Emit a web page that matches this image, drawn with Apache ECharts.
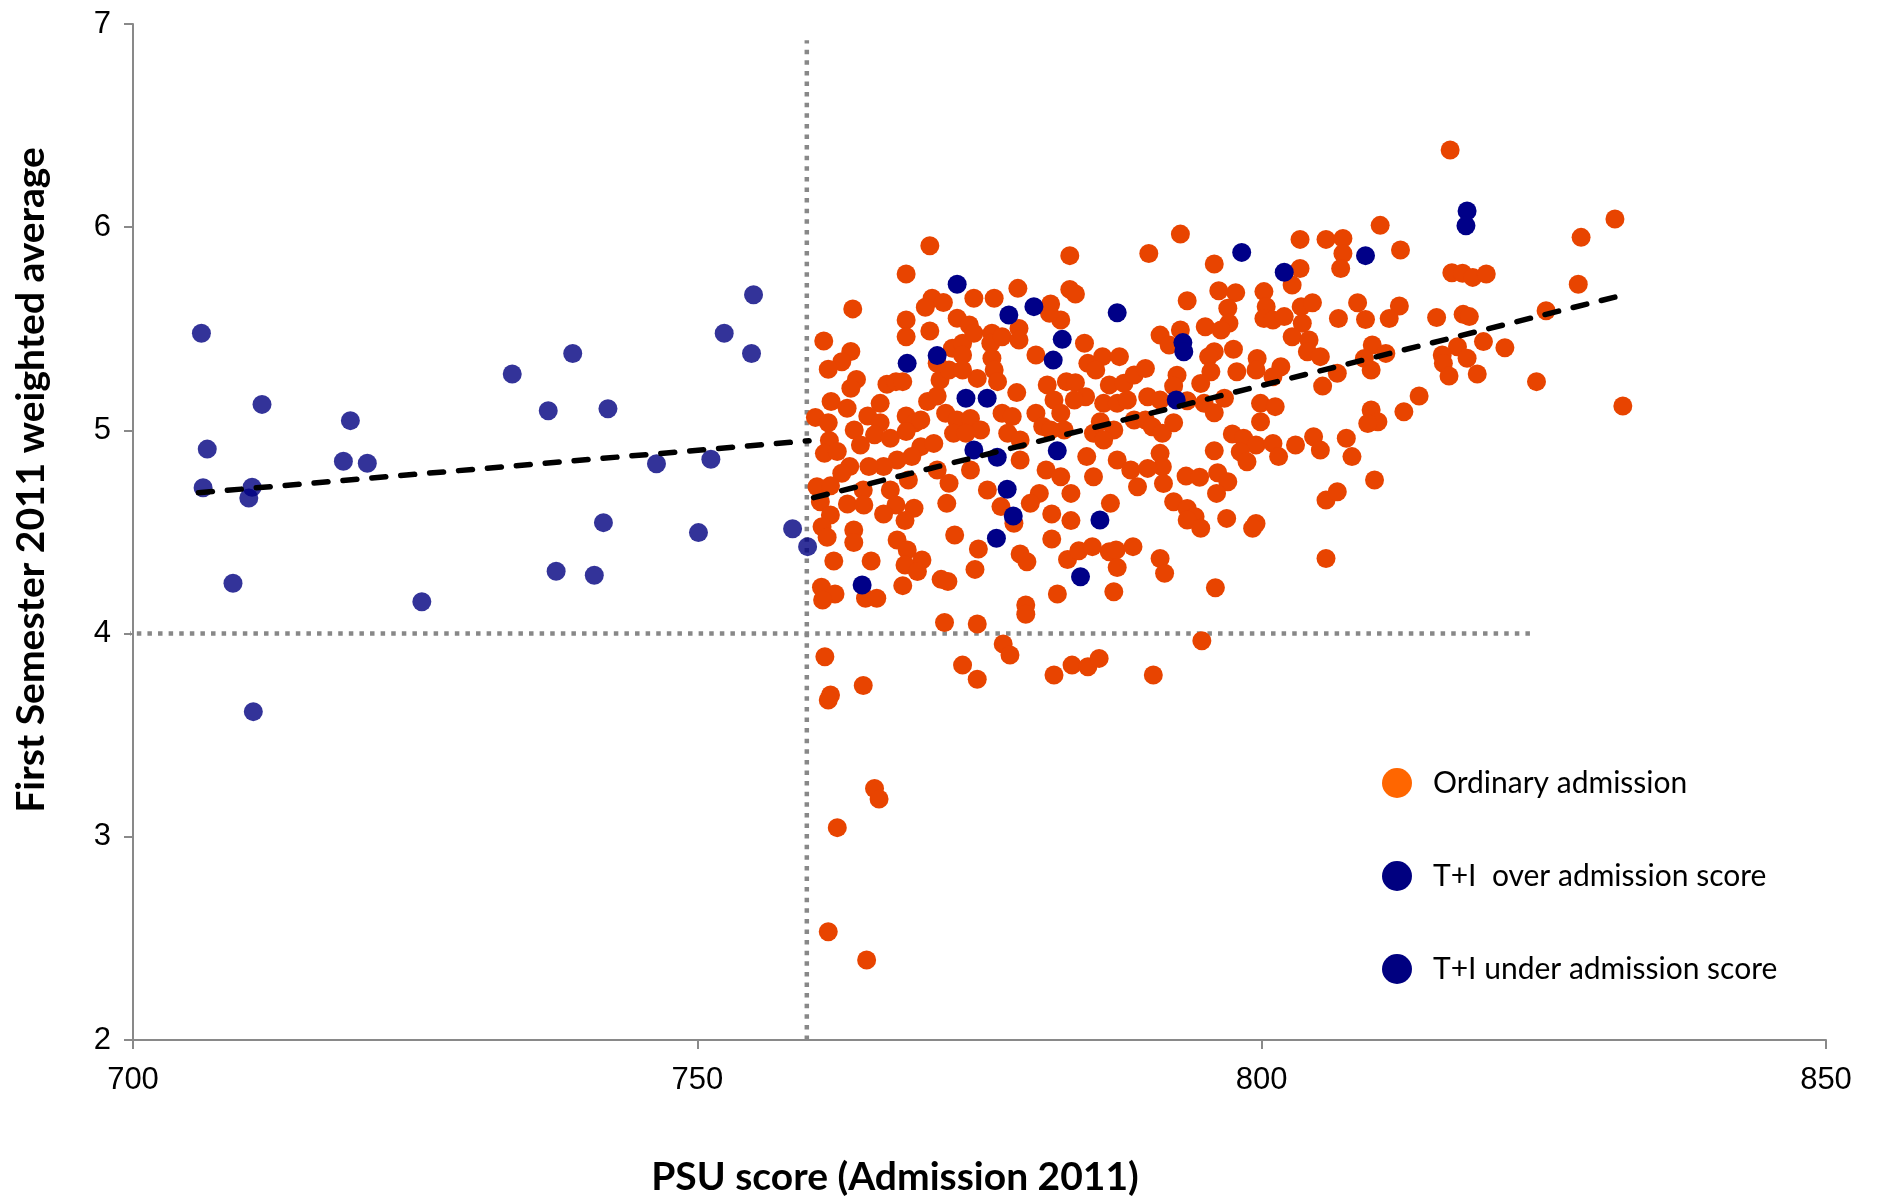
<!DOCTYPE html>
<html>
<head>
<meta charset="utf-8">
<script src="https://cdn.jsdelivr.net/npm/echarts@6/dist/echarts.min.js"></script>
<style>
html,body{margin:0;padding:0;background:#fff;}
#chart{width:1879px;height:1201px;}
</style>
</head>
<body>
<div id="chart"></div>
<script>
// ---- axis ranges / ticks ----
const xMin = 700, xMax = 850, xStep = 50;
const yMin = 2, yMax = 7, yStep = 1;

// ---- titles / legend labels ----
const xTitle = 'PSU score (Admission 2011)';
const yTitle = 'First Semester 2011 weighted average';
const nameOrdinary = 'Ordinary admission';
const nameOver = 'T+I  over admission score';
const nameUnder = 'T+I under admission score';

// ---- T+I students under the admission score (PSU, average) ----
const tiUnder = [
  [706.06,5.478],[711.43,5.128],[706.58,4.908],[706.21,4.718],[710.55,4.72],[710.26,4.667],
  [708.86,4.248],[710.66,3.616],[719.26,5.048],[718.64,4.848],[720.76,4.838],[725.59,4.157],
  [733.6,5.278],[738.96,5.378],[736.79,5.097],[742.08,5.107],[737.49,4.307],[740.87,4.287],
  [741.68,4.546],[746.38,4.836],[751.2,4.858],[750.1,4.497],[752.38,5.478],[754.98,5.668],
  [754.8,5.378],[758.44,4.516],[759.77,4.428]
];

// ---- T+I students over the admission score ----
const tiOver = [
  [773.02,5.719],[777.6,5.568],[779.82,5.609],[787.2,5.579],[782.33,5.448],[781.53,5.346],
  [771.25,5.368],[768.59,5.33],[773.8,5.158],[775.68,5.158],[793.02,5.432],[793.1,5.387],
  [792.43,5.15],[798.23,5.876],[802.0,5.778],[774.5,4.904],[776.57,4.868],[781.89,4.9],
  [777.45,4.71],[777.99,4.579],[776.5,4.469],[785.67,4.559],[783.95,4.28],[764.6,4.239],
  [809.2,5.86],[818.2,6.08],[818.1,6.007]
];

// ---- Ordinary admission students ----
const ordinary = [
  [770.6,5.909],[768.5,5.770],[763.77,5.598],[761.2,5.440],[770.6,5.489],[768.5,5.543],[768.5,5.461],[770.8,5.650],[771.8,5.629],[770.2,5.606],[773.02,5.552],
  [763.6,5.388],[762.8,5.338],[761.6,5.301],[764.1,5.251],[763.6,5.207],[766.8,5.227],[767.6,5.240],[768.2,5.240],[761.85,5.142],[763.27,5.109],[766.2,5.133],
  [760.46,5.064],[761.6,5.038],[763.9,5.002],[765.1,5.071],[766.2,5.038],[765.7,4.978],[764.45,4.928],[761.7,4.950],[761.26,4.887],[762.4,4.896],[767.1,4.961],
  [768.5,5.071],[769.3,5.038],[769.8,5.051],[768.5,4.994],[770.4,5.142],[771.25,5.169],[771.5,5.248],[772.3,5.297],[771.25,5.330],[772.6,5.404],[773.5,5.429],
  [772.0,5.084],[773.0,5.051],[772.7,4.986],[769.8,4.920],[770.95,4.936],[769.0,4.871],[767.7,4.854],[766.5,4.822],[765.2,4.822],[763.5,4.822],[762.8,4.789],
  [760.6,4.723],[761.8,4.727],[764.7,4.707],[767.1,4.707],[768.7,4.756],[771.25,4.805],[772.3,4.740],[772.1,4.641],[760.9,4.649],[763.3,4.638],[764.75,4.633],
  [767.6,4.633],[769.2,4.617],
  [783.0,5.860],[778.4,5.699],[774.5,5.650],[776.3,5.650],[783.0,5.694],[783.5,5.671],[781.3,5.622],[782.2,5.543],[781.2,5.576],[774.1,5.519],[774.5,5.478],
  [776.1,5.478],[776.0,5.429],[777.0,5.461],[778.5,5.502],[778.5,5.445],[780.0,5.371],[776.1,5.355],[776.3,5.297],[774.8,5.256],[776.6,5.240],[773.5,5.371],
  [773.5,5.297],[778.3,5.186],[777.0,5.084],[777.9,5.068],[774.2,5.059],[775.1,5.002],[777.5,4.986],[778.6,4.953],[780.0,5.084],[781.0,5.224],[781.6,5.150],
  [780.6,5.019],[782.2,5.084],[782.7,5.240],[783.5,5.235],[784.4,5.166],[783.4,5.150],[782.5,5.002],[784.3,5.429],[784.6,5.330],[785.9,5.363],[787.4,5.363],
  [785.3,5.297],[786.5,5.224],[786.0,5.133],[787.8,5.232],[788.7,5.273],[787.2,5.133],[788.1,5.150],[785.7,5.043],[786.9,5.002],[788.7,5.051],[785.1,4.986],
  [786.0,4.953],[784.5,4.871],[785.1,4.772],[781.3,5.002],[780.9,4.805],[782.2,4.772],[778.6,4.854],[775.7,4.707],[774.2,4.805],[780.3,4.690],[783.1,4.690],
  [787.2,4.854],[788.4,4.805],[786.6,4.641],[789.0,4.723],[779.5,4.641],[776.9,4.625],[773.8,4.986],
  [792.8,5.966],[790.0,5.871],[795.8,5.819],[803.4,5.940],[805.7,5.940],[807.2,5.945],[807.2,5.871],[807.0,5.797],[803.4,5.797],[802.7,5.715],[812.3,5.888],
  [796.2,5.687],[797.7,5.678],[793.4,5.638],[800.2,5.683],[800.4,5.609],[797.0,5.601],[803.5,5.609],[804.5,5.628],[808.5,5.628],[812.2,5.612],[811.3,5.551],
  [806.8,5.551],[809.2,5.546],[800.2,5.551],[801.0,5.543],[802.0,5.560],[803.6,5.527],[797.1,5.527],[795.0,5.510],[796.4,5.494],[791.0,5.469],[792.8,5.494],
  [802.7,5.461],[804.2,5.445],[804.05,5.387],[805.2,5.363],[797.5,5.399],[795.8,5.387],[795.3,5.363],[791.8,5.420],[789.7,5.305],[792.5,5.272],[795.5,5.289],
  [797.8,5.289],[799.6,5.354],[799.5,5.297],[801.7,5.313],[801.0,5.264],[809.8,5.420],[811.0,5.379],[809.1,5.354],[809.7,5.297],[806.7,5.281],[805.4,5.218],
  [794.6,5.231],[792.2,5.218],[789.9,5.166],[791.0,5.149],[793.4,5.146],[794.9,5.133],[796.7,5.158],[795.8,5.087],[799.9,5.133],[801.2,5.117],[799.9,5.043],
  [809.7,5.100],[810.3,5.043],[809.4,5.034],[812.6,5.092],[789.7,5.051],[790.3,5.018],[791.2,4.986],[792.2,5.038],[797.4,4.982],[798.4,4.961],[799.5,4.928],
  [798.1,4.895],[798.7,4.846],[801.0,4.936],[801.5,4.871],[803.0,4.928],[804.6,4.969],[805.2,4.903],[807.5,4.961],[808.0,4.871],[795.8,4.900],[791.0,4.887],
  [791.2,4.821],[789.9,4.813],[791.3,4.739],[793.3,4.775],[794.5,4.769],[796.1,4.792],[797.0,4.747],[796.0,4.690],[792.2,4.649],[793.4,4.616],[794.1,4.575],
  [793.4,4.559],[794.6,4.518],[796.9,4.567],[799.5,4.542],[799.2,4.518],[805.7,4.657],[806.7,4.698],[810.0,4.756],[805.7,4.370],[791.0,4.370],
  [816.7,6.380],[810.5,6.009],[831.3,6.040],[828.3,5.950],[816.85,5.776],[817.8,5.773],[818.7,5.753],[819.9,5.770],[828.05,5.719],[825.2,5.589],[817.85,5.571],
  [818.4,5.560],[815.5,5.556],[819.65,5.437],[821.55,5.407],[817.35,5.412],[816.0,5.371],[818.2,5.355],[816.1,5.330],[816.6,5.268],[819.1,5.278],[824.35,5.240],
  [832.0,5.120],[813.95,5.169],
  [761.79,4.584],[761.05,4.526],[761.5,4.474],[763.86,4.510],[763.86,4.448],[762.09,4.357],[765.4,4.357],[766.5,4.589],[768.4,4.556],[767.7,4.461],[768.6,4.411],
  [769.9,4.362],[768.4,4.338],[769.5,4.305],[772.8,4.485],[774.9,4.416],[774.6,4.316],[771.6,4.267],[772.2,4.256],[768.2,4.236],[761.0,4.228],[762.2,4.195],
  [761.1,4.165],[764.9,4.174],[765.9,4.174],[771.9,4.055],[774.8,4.047],[778.05,4.543],[778.6,4.392],[779.2,4.354],[781.4,4.589],[783.1,4.556],[781.4,4.466],
  [782.8,4.365],[783.8,4.408],[785.0,4.428],[786.5,4.403],[787.1,4.411],[788.6,4.428],[787.2,4.325],[781.9,4.195],[779.1,4.141],[779.1,4.095],[786.9,4.206],
  [791.4,4.297],[795.9,4.226],
  [761.3,3.886],[764.7,3.745],[761.8,3.698],[761.6,3.673],[777.1,3.949],[777.7,3.895],[773.5,3.845],[774.8,3.775],[781.6,3.796],[783.2,3.845],[784.6,3.837],
  [785.6,3.878],[790.4,3.796],[794.7,3.965],[765.7,3.238],[766.1,3.186],[762.4,3.045],[761.6,2.533],[765.0,2.394]
];

// ---- trend lines (two segments) ----
const trendUnder = [[705.8,4.693],[759.9,4.949]];
const trendOver = [[760.3,4.669],[832.0,5.666]];

// ---- reference lines ----
const cutoffLine = [[759.7,2],[759.7,6.92]];
const passLine = [[699.4,4],[823.9,4]];

const tickFont = 'Liberation Sans, Arial, sans-serif';
const textFont = 'Lato, Carlito, Calibri, sans-serif';

const chart = echarts.init(document.getElementById('chart'), null, {renderer:'canvas'});
const dotted = {color:'#888888', width:4.5, type:[4.5,6.1]};
const dashed = {color:'#000000', width:5.5, type:[14,15], cap:'round'};

chart.setOption({
  animation:false,
  backgroundColor:'#ffffff',
  grid:{left:133, right:53, top:24, bottom:161, containLabel:false},
  xAxis:{
    type:'value', min:xMin, max:xMax, interval:xStep,
    axisLine:{show:true, lineStyle:{color:'#898989', width:2}},
    axisTick:{show:true, length:9, lineStyle:{color:'#898989', width:2}},
    splitLine:{show:false},
    axisLabel:{color:'#000', fontSize:31, fontFamily:tickFont, margin:25}
  },
  yAxis:{
    type:'value', min:yMin, max:yMax, interval:yStep,
    axisLine:{show:true, lineStyle:{color:'#898989', width:2}},
    axisTick:{show:true, length:9, lineStyle:{color:'#898989', width:2}},
    splitLine:{show:false},
    axisLabel:{color:'#000', fontSize:31, fontFamily:tickFont, margin:22}
  },
  legend:{
    orient:'vertical', left:1377, top:763, itemWidth:30, itemHeight:30, itemGap:63,
    icon:'circle',
    textStyle:{color:'#000', fontSize:30, fontFamily:textFont, padding:[0,0,0,16]},
    data:[
      {name:nameOrdinary, itemStyle:{color:'#FF6600', opacity:1}},
      {name:nameOver, itemStyle:{color:'#000080', opacity:1}},
      {name:nameUnder, itemStyle:{color:'#000080', opacity:1}}
    ],
    selectedMode:false
  },
  graphic:[
    {type:'text', x:895, y:1177, silent:true,
     style:{text:xTitle, fill:'#000', font:'bold 39px '+textFont, align:'center', verticalAlign:'middle', textAlign:'center', textVerticalAlign:'middle'}},
    {type:'text', x:31, y:480, rotation:Math.PI/2, silent:true,
     style:{text:yTitle, fill:'#000', font:'bold 39px '+textFont, align:'center', verticalAlign:'middle', textAlign:'center', textVerticalAlign:'middle'}}
  ],
  series:[
    {type:'line', name:'pass', data:passLine, symbol:'none', clip:false, silent:true, lineStyle:dotted, z:1},
    {type:'line', name:'cutoff', data:cutoffLine, symbol:'none', clip:false, silent:true, lineStyle:dotted, z:1},
    {type:'scatter', name:nameOrdinary, data:ordinary, symbol:'circle', symbolSize:19, itemStyle:{color:'#E84400', opacity:1}, z:2},
    {type:'scatter', name:nameOver, data:tiOver, symbol:'circle', symbolSize:19, itemStyle:{color:'#000088', opacity:1}, z:3},
    {type:'scatter', name:nameUnder, data:tiUnder, symbol:'circle', symbolSize:19, itemStyle:{color:'#000080', opacity:0.8}, z:3},
    {type:'line', name:'trendUnder', data:trendUnder, symbol:'none', silent:true, lineStyle:dashed, z:4},
    {type:'line', name:'trendOver', data:trendOver, symbol:'none', silent:true, lineStyle:dashed, z:4}
  ]
});
</script>
</body>
</html>
